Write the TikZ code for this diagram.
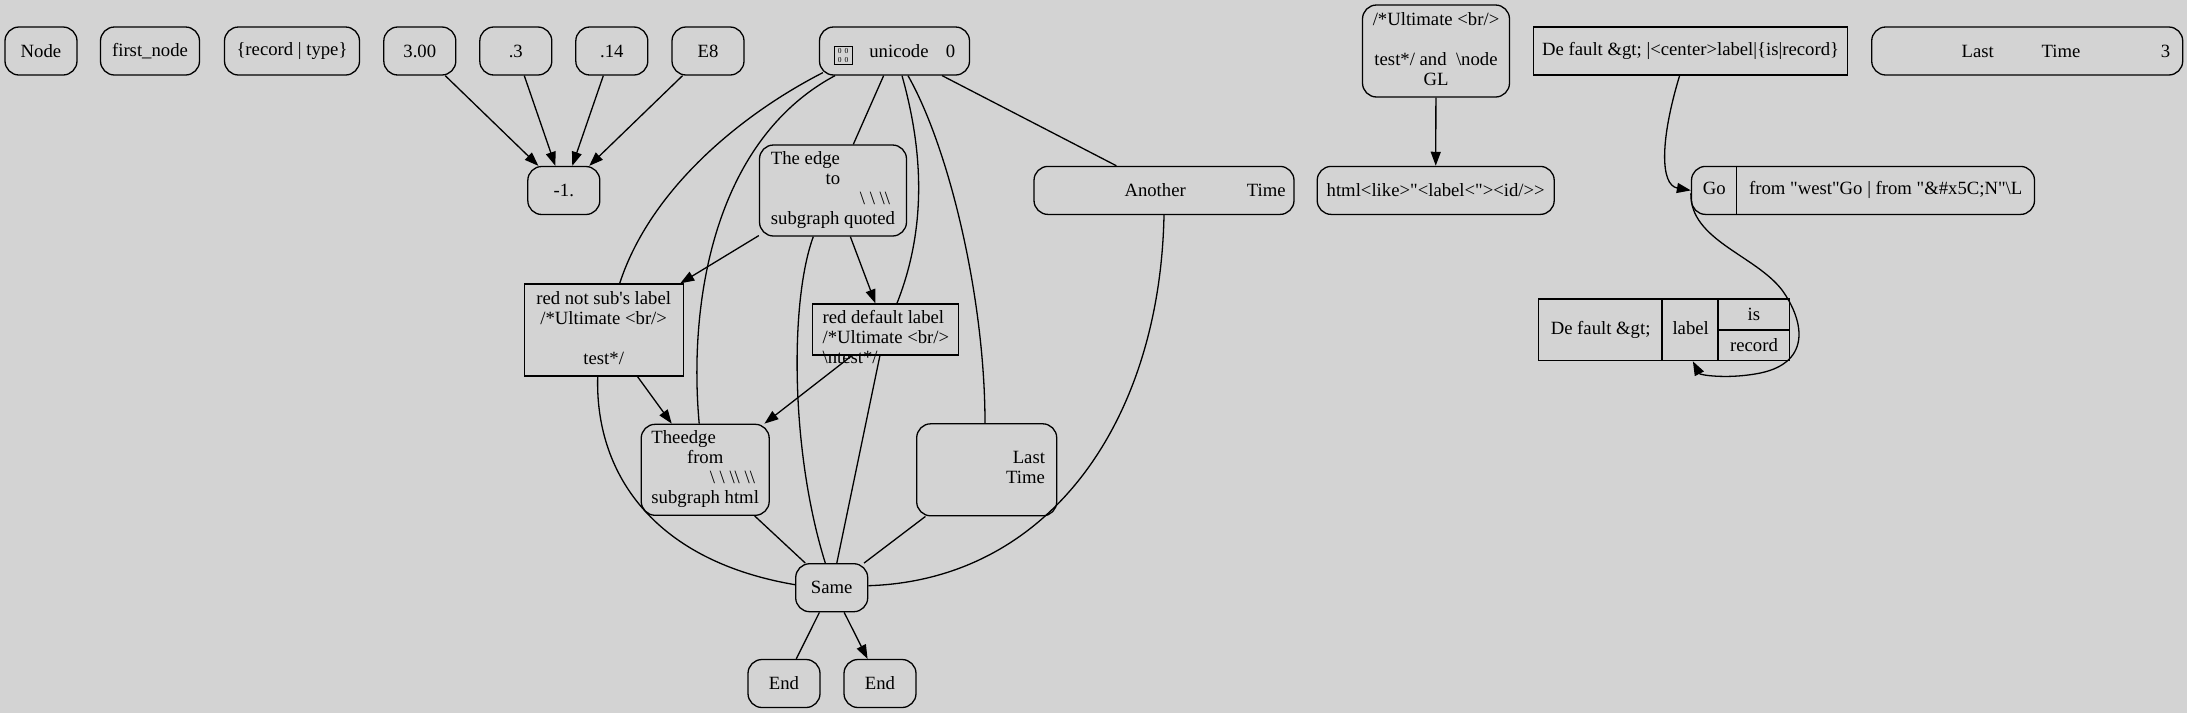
\documentclass[tikz,border=0pt]{standalone}
\usepackage{fontspec}
\setmainfont{Liberation Serif}
\usetikzlibrary{arrows.meta,calc}
\definecolor{gvbg}{HTML}{D3D3D3}
\newcommand\gvfont{\fontsize{18.7}{20}\selectfont}
\newcommand\bsl{\textbackslash}
\newcommand\qq{\textquotedbl}
\newcommand\tofu{\raisebox{-5pt}[0pt][0pt]{\setlength\fboxsep{2pt}\setlength\fboxrule{0.8pt}\fbox{\fontsize{7.5}{7.5}\selectfont\vbox{\hbox{\makebox[13pt]{\,0\hfill0\,}}\kern1.5pt\hbox{\makebox[13pt]{\,0\hfill0\,}}}}}}
\tikzset{
  gv/.style={draw=black, line width=1.3pt, rounded corners=14pt, inner sep=0pt, font=\gvfont, minimum height=48pt},
  gvbox/.style={gv, rounded corners=0pt},
  gvline/.style={line width=1.3pt, draw=black},
  gvarrow/.style={gvline, -{Triangle[length=14pt,width=10pt]}},
}
\begin{document}
\begin{tikzpicture}[x=1pt,y=-1pt]
\fill[gvbg] (0,0) rectangle (2187,713);
\useasboundingbox (0,0) rectangle (2187,713);

% top row
\node[gv, minimum width=72pt]  (n1)   at (41,51)    {Node};
\node[gv, minimum width=99pt]  (n2)   at (150,51)   {first\_node};
\node[gv, minimum width=135pt] (n3)   at (292,51)   {\{record | type\}};
\node[gv, minimum width=72pt]  (n300) at (419.8,51) {3.00};
\node[gv, minimum width=72pt]  (n03)  at (515.8,51) {.3};
\node[gv, minimum width=72pt]  (n014) at (611.8,51) {.14};
\node[gv, minimum width=72pt]  (nE8)  at (708,51)   {E8};
\node[gv, minimum width=72pt]  (nm1)  at (563.8,190.5) {-1.};

\node[gv, minimum width=150pt] (uni) at (894.5,51) {\tofu\hspace{17pt}unicode\hspace{17.3pt}0};

\node[gv, minimum width=147pt, minimum height=92pt] (ult) at (1436,51)
  {\begin{tabular}{@{}c@{}}/*Ultimate <br/>\\ \\ test*/ and\ \ \bsl node\\GL\end{tabular}};
\node[gv, minimum width=237pt] (html) at (1435.7,190.4) {html<like>\qq<label<\qq><id/>{}>};

\node[gvbox, minimum width=314pt] (dft) at (1690.6,51) {De fault \&gt; |<center>label|\{is|record\}};
\node[gv, minimum width=311pt] (lt3) at (2027.2,51)
  {\makebox[311pt][l]{\hspace{90pt}Last\hspace{47.7pt}Time\hspace{80.5pt}3}};

% middle
\node[gv, minimum width=147pt, minimum height=91pt] (te) at (833,190.5)
  {\begin{tabular}{@{}l@{}}The edge\\ \hfill to\hfill\null\\ \hfill\bsl\ \bsl\ \bsl\bsl\hspace*{5pt}\\ subgraph quoted\end{tabular}};
\node[gv, minimum width=260pt] (ano) at (1164,190.4)
  {\makebox[260pt][l]{\hspace{90.5pt}Another\hspace{61pt}Time}};

\node[gvbox, minimum width=159pt, minimum height=92pt] (rns) at (603.7,330)
  {\begin{tabular}{@{}c@{}}red not sub\textquotesingle s label\\/*Ultimate <br/>\\ \\ test*/\end{tabular}};
\node[gvbox, minimum width=146pt, minimum height=51pt] (rdl) at (885.3,329.6)
  {\makebox[146pt][l]{\hspace{10.3pt}\raisebox{-14.7pt}[0pt][0pt]{\begin{tabular}{@{}l@{}}red default label\\/*Ultimate <br/>\\\bsl ntest*/\end{tabular}}}};

\node[gv, minimum width=128pt, minimum height=91pt] (tef) at (705.2,469.8)
  {\begin{tabular}{@{}l@{}}Theedge\\ \hfill from\hfill\null\\ \hfill\bsl\ \bsl\ \bsl\bsl\ \bsl\bsl\hspace*{4pt}\\ subgraph html\end{tabular}};
\node[gv, minimum width=140pt, minimum height=92pt] (ltm) at (986.7,469.8)
  {\makebox[140pt][r]{\begin{tabular}{@{}r@{}}Last\\Time\end{tabular}\hspace{11.7pt}}};

\node[gv, minimum width=72pt] (same) at (831.7,587.7) {Same};
\node[gv, minimum width=72pt] (end1) at (784,683.5) {End};
\node[gv, minimum width=72pt] (end2) at (880,683.5) {End};

% records on the right
\node[gv, minimum width=343pt] (go) at (1863,190.4)
  {\makebox[45.5pt]{Go}\makebox[297.5pt]{from \qq west\qq Go | from \qq\&\#x5C;N\qq\bsl L}};
\draw[gvline] ([xshift=45.5pt]go.north west) -- ([xshift=45.5pt]go.south west);

\node[gvbox, minimum width=250.6pt, minimum height=61.7pt] (rec) at (1663.9,329.85)
  {\makebox[124pt]{De fault \&gt;}\makebox[56.1pt]{label}\makebox[70.5pt]{\def\arraystretch{1.54}\begin{tabular}{@{}c@{}}is\\record\end{tabular}}};
\draw[gvline] ([xshift=124pt]rec.north west) -- ([xshift=124pt]rec.south west);
\draw[gvline] ([xshift=180.1pt]rec.north west) -- ([xshift=180.1pt]rec.south west);
\draw[gvline] ([xshift=180.1pt]rec.west) -- (rec.east);

% straight edges
\draw[gvarrow] (n300) -- (nm1);
\draw[gvarrow] (n03) -- (nm1);
\draw[gvarrow] (n014) -- (nm1);
\draw[gvarrow] (nE8) -- (nm1);
\draw[gvline] (uni) -- (te);
\draw[gvline] (uni) -- (ano);
\draw[gvarrow] (te) -- (rns);
\draw[gvarrow] (te) -- (rdl);
\draw[gvarrow] (rns) -- (tef);
\draw[gvarrow] (rdl) -- (tef);
\draw[gvline] (rdl) -- (same);
\draw[gvline] (tef) -- (same);
\draw[gvline] (ltm) -- (same);
\draw[gvline] (same) -- (end1);
\draw[gvarrow] (same) -- (end2);
\draw[gvarrow] (ult) -- (html);

% curved edges
\draw[gvline] ([xshift=4pt,yshift=3pt]uni.south west) .. controls (740,115) and (650,190) .. ([xshift=16pt]rns.north);
\draw[gvline] ([xshift=-59.5pt]uni.south) .. controls (715,140) and (688,300) .. ([xshift=-6pt]tef.north);
\draw[gvline] ([xshift=7.5pt]uni.south) .. controls (920,140) and (930,220) .. ([xshift=11.6pt]rdl.north);
\draw[gvline] ([xshift=13.5pt]uni.south) .. controls (950,150) and (985,300) .. ([xshift=-1.7pt]ltm.north);
\draw[gvline] ([xshift=-19.7pt]te.south) .. controls (790,300) and (790,450) .. ([xshift=-6.4pt]same.north);
\draw[gvline] ([xshift=-6pt]rns.south) .. controls (595,470) and (650,560) .. ([yshift=3pt]same.west);
\draw[gvline] (ano.south) .. controls (1160,420) and (1050,580) .. ([yshift=2pt]same.east);
\draw[gvarrow] ([xshift=-11pt]dft.south) .. controls (1660,140) and (1660,185) .. (go.west);
\draw[gvarrow] ([yshift=-3pt]go.west) .. controls (1690,240) and (1755,255) .. (1782,290)
  .. controls (1805,322) and (1812,365) .. (1755,374)
  .. controls (1725,379) and (1700,375) .. ([xshift=29pt]rec.south);
\end{tikzpicture}
\end{document}
